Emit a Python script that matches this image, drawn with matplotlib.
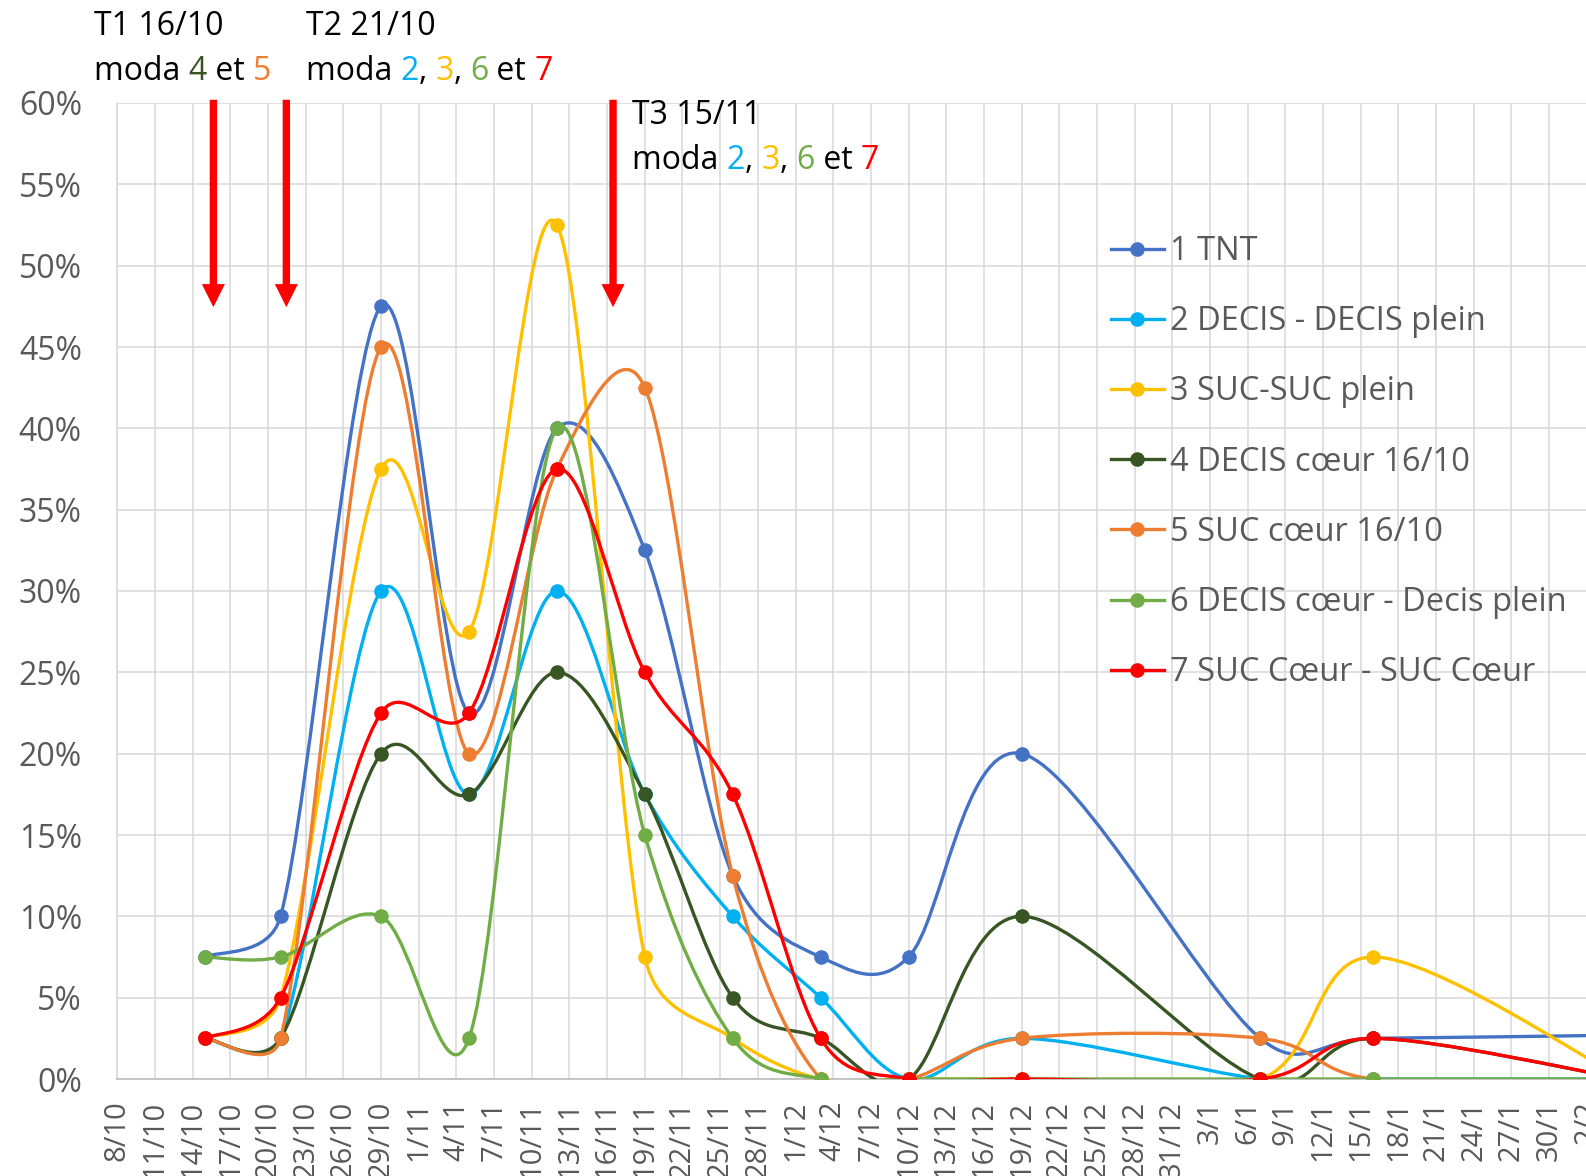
import datetime as dt
import numpy as np
import matplotlib
matplotlib.use("Agg")
import matplotlib.pyplot as plt
import matplotlib.dates as mdates
from matplotlib.path import Path
from matplotlib.patches import PathPatch
from matplotlib.lines import Line2D
from matplotlib.ticker import PercentFormatter, FixedLocator, FuncFormatter

plt.rcParams['font.family'] = ['Open Sans', 'DejaVu Sans']

# sampling dates (day/month); the last one lies past the right edge of the picture
dates = ['15/10', '21/10', '29/10', '5/11', '12/11', '19/11', '26/11',
         '3/12', '10/12', '19/12', '7/1', '16/1', '5/2']

# attack rates in %
tnt = [7.5, 10, 47.5, 22.5, 40, 32.5, 12.5, 7.5, 7.5, 20, 2.5, 2.5, 2.7]
decis_decis = [2.5, 2.5, 30, 17.5, 30, 17.5, 10, 5, 0, 2.5, 0, 0, 0]
suc_suc = [2.5, 5, 37.5, 27.5, 52.5, 7.5, 2.5, 0, 0, 0, 0, 7.5, 0]
decis_coeur = [2.5, 2.5, 20, 17.5, 25, 17.5, 5, 2.5, 0, 10, 0, 2.5, 0]
suc_coeur = [2.5, 2.5, 45, 20, 37.5, 42.5, 12.5, 0, 0, 2.5, 2.5, 0, 0]
decis_coeur_plein = [7.5, 7.5, 10, 2.5, 40, 15, 2.5, 0, 0, 0, 0, 0, 0]
suc_coeur_suc = [2.5, 5, 22.5, 22.5, 37.5, 25, 17.5, 2.5, 0, 0, 0, 2.5, 0]

labels = ['1 TNT', '2 DECIS - DECIS plein', '3 SUC-SUC plein', '4 DECIS cœur 16/10',
          '5 SUC cœur 16/10', '6 DECIS cœur - Decis plein', '7 SUC Cœur - SUC Cœur']
colors = ['#4472C4', '#00B0F0', '#FFC000', '#375623', '#ED7D31', '#70AD47', '#FF0000']
series = [tnt, decis_decis, suc_suc, decis_coeur, suc_coeur, decis_coeur_plein, suc_coeur_suc]


def to_num(s):
    d, m = (int(v) for v in s.split('/'))
    year = 2020 if m >= 8 else 2021
    return mdates.date2num(dt.datetime(year, m, d))


def clamp(v, limit):
    n = np.hypot(*v)
    return v * (limit / n) if n > limit else v


def smooth_path(ax, xd, yd):
    # excel-like smoothed line, built in screen space: catmull-rom tangents (1/6),
    # each control arm limited to half of the segment it belongs to
    pts = ax.transData.transform(np.column_stack([xd, yd]))
    n = len(pts)
    verts = [pts[0]]
    codes = [Path.MOVETO]
    for i in range(n - 1):
        p0 = pts[max(i - 1, 0)]
        p1, p2 = pts[i], pts[i + 1]
        p3 = pts[min(i + 2, n - 1)]
        seg = np.hypot(*(p2 - p1))
        a = clamp((p2 - p0) / 6, seg / 2)
        b = clamp((p3 - p1) / 6, seg / 2)
        verts += [p1 + a, p2 - b, p2]
        codes += [Path.CURVE4] * 3
    verts = ax.transData.inverted().transform(np.array(verts))
    return Path(verts, codes)


x = np.array([to_num(s) for s in dates])
day0 = to_num('8/10')

W, H = 1586, 1176
fig = plt.figure(figsize=(W / 100, H / 100), dpi=100)
px_day = 12.56
left_px, top_px, bottom_px = 117.3, 103, 1079
span = 118
ax = fig.add_axes([left_px / W, (H - bottom_px) / H, span * px_day / W, (bottom_px - top_px) / H])
ax.set_xlim(day0, day0 + span)
ax.set_ylim(0, 0.6)

for i, (vals, col) in enumerate(zip(series, colors)):
    y = np.array(vals) / 100
    ax.add_patch(PathPatch(smooth_path(ax, x, y), fill=False, edgecolor=col, lw=2.4,
                           capstyle='round', joinstyle='round', zorder=3 + i))
    ax.plot(x, y, 'o', color=col, ms=10.5, mew=0, zorder=3 + i)

ax.set_xlim(day0, day0 + span)
ax.set_ylim(0, 0.6)
ax.yaxis.set_major_locator(FixedLocator(np.arange(0, 0.601, 0.05)))
ax.yaxis.set_major_formatter(PercentFormatter(1.0, decimals=0))
ax.xaxis.set_major_locator(FixedLocator(np.arange(day0, day0 + span, 3)))
ax.xaxis.set_major_formatter(FuncFormatter(
    lambda v, pos: f"{mdates.num2date(v).day}/{mdates.num2date(v).month}"))

ax.grid(True, color='#D9D9D9', lw=1.1)
ax.set_axisbelow(True)
for side in ['top', 'right']:
    ax.spines[side].set_visible(False)
ax.spines['left'].set_color('#D9D9D9')
ax.spines['bottom'].set_color('#BFBFBF')
ax.spines['left'].set_linewidth(1.1)
ax.spines['bottom'].set_linewidth(1.3)
ax.tick_params(length=0, labelcolor='#595959')
ax.tick_params(axis='y', labelsize=23, pad=25.5)
ax.tick_params(axis='x', labelsize=21, pad=15.5, labelrotation=90)

handles = [Line2D([], [], color=c, lw=2.4, marker='o', ms=10.5, mew=0) for c in colors]
ax.legend(handles, labels, loc='upper left', bbox_to_anchor=(1110.7 / W, 1 - 235 / H),
          bbox_transform=fig.transFigure, frameon=False, fontsize=23.5, labelcolor='#595959',
          handlelength=1.63, handletextpad=0.18, labelspacing=1.14, borderpad=0, borderaxespad=0)

# red arrows for the treatments
arrow_days = [7.65, 13.46, 39.47]
for d in arrow_days:
    ax.annotate('', xy=(day0 + d, 0.4745), xytext=(day0 + d, 0.602),
                arrowprops=dict(arrowstyle='simple,head_length=1,head_width=1,tail_width=0.32',
                                mutation_scale=16.6, color='red', lw=0, shrinkA=0, shrinkB=0),
                annotation_clip=False, zorder=20)


def rich_text(x_px, y_px, pieces, size=23):
    t = fig.text(x_px / W, 1 - y_px / H, pieces[0][0], color=pieces[0][1],
                 fontsize=size, va='baseline', ha='left')
    for s, c in pieces[1:]:
        t = ax.annotate(s, xy=(1, 0), xycoords=t, va='bottom', ha='left',
                        color=c, fontsize=size, annotation_clip=False)


rich_text(94, 35, [('T1 16/10', 'black')])
rich_text(94, 80, [('moda ', 'black'), ('4', '#375623'), (' et ', 'black'), ('5', '#ED7D31')])
rich_text(305.5, 35, [('T2 21/10', 'black')])
rich_text(305.5, 80, [('moda ', 'black'), ('2', '#00B0F0'), (', ', 'black'), ('3', '#FFC000'),
                      (', ', 'black'), ('6', '#70AD47'), (' et ', 'black'), ('7', '#FF0000')])
rich_text(632, 123.5, [('T3 15/11', 'black')])
rich_text(632, 169, [('moda ', 'black'), ('2', '#00B0F0'), (', ', 'black'), ('3', '#FFC000'),
                     (', ', 'black'), ('6', '#70AD47'), (' et ', 'black'), ('7', '#FF0000')])

fig.savefig('out.png', dpi=100)
